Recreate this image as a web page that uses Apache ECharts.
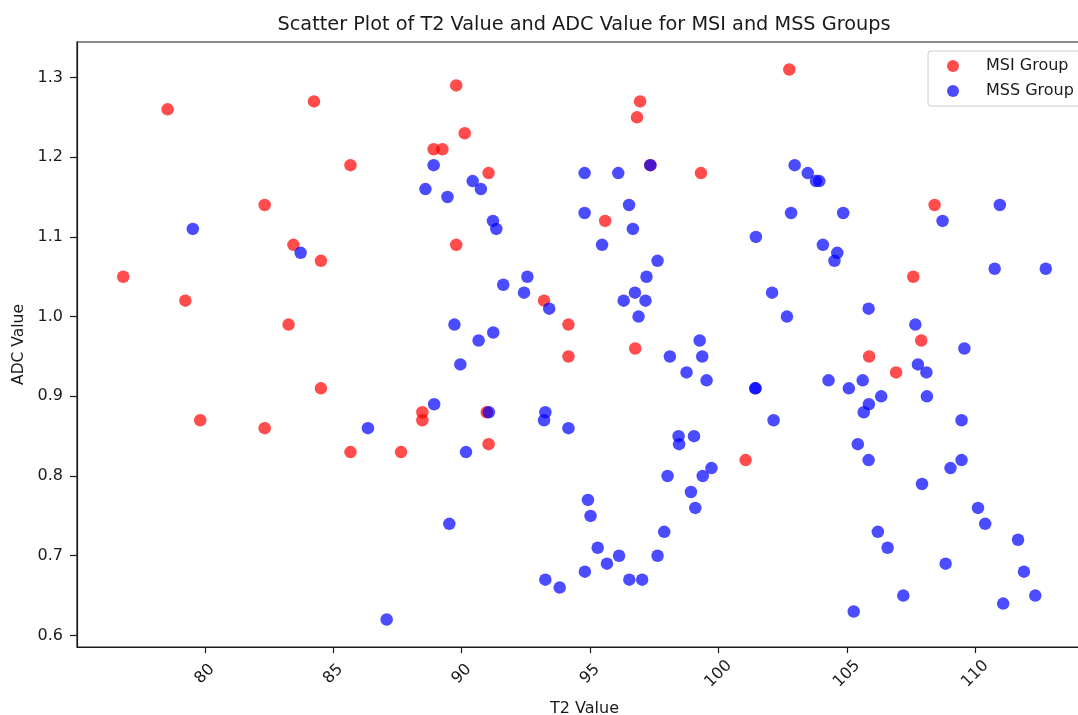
<!DOCTYPE html>
<html>
<head>
<meta charset="utf-8">
<title>Scatter Plot of T2 Value and ADC Value for MSI and MSS Groups</title>
<script src="https://cdn.jsdelivr.net/npm/echarts@6.0.0/dist/echarts.min.js"></script>
<style>
    html, body { margin: 0; padding: 0; background: #fff; }
    #chart { width: 1078px; height: 715px; }
</style>
</head>
<body>
<div id="chart"></div>
<script>
// MSI group (red)
var msiT2 = [76.82, 78.55, 79.24, 82.33, 84.25, 83.45, 84.52, 83.26, 85.67, 89.79,
    90.12, 88.91, 89.25, 91.05, 89.79, 102.76, 96.95, 96.83, 97.35, 99.32,
    95.59, 108.42, 107.59, 93.21, 94.16, 94.16, 96.76, 105.87, 107.90, 79.82,
    82.33, 84.52, 85.67, 87.64, 88.47, 88.47, 90.98, 91.05, 106.92, 101.06];
var msiAdc = [1.05, 1.26, 1.02, 1.14, 1.27, 1.09, 1.07, 0.99, 1.19, 1.29,
    1.23, 1.21, 1.21, 1.18, 1.09, 1.31, 1.27, 1.25, 1.19, 1.18,
    1.12, 1.14, 1.05, 1.02, 0.99, 0.95, 0.96, 0.95, 0.97, 0.87,
    0.86, 0.91, 0.83, 0.83, 0.88, 0.87, 0.88, 0.84, 0.93, 0.82];

// MSS group (blue)
var mssT2 = [79.53, 83.73, 88.59, 88.91, 89.45, 90.43, 90.75, 91.22, 91.35, 92.56,
    91.62, 92.43, 89.72, 90.66, 91.23, 94.79, 96.10, 97.35, 94.79, 96.52,
    96.67, 95.47, 97.63, 97.20, 96.75, 96.31, 97.16, 96.89, 93.41, 99.27,
    98.11, 99.37, 102.97, 103.48, 103.80, 103.93, 102.83, 104.86, 101.46, 104.07,
    104.63, 104.52, 102.09, 102.67, 105.85, 107.67, 109.58, 108.73, 110.96, 110.76,
    112.75, 89.95, 88.93, 86.35, 90.17, 91.06, 89.52, 87.08, 107.77, 108.10,
    98.76, 99.54, 104.29, 105.62, 101.44, 101.44, 105.08, 106.34, 108.12, 105.86,
    105.66, 93.26, 93.21, 94.16, 102.15, 109.47, 98.45, 98.47, 99.05, 105.43,
    105.85, 109.47, 109.04, 99.73, 99.39, 98.02, 107.93, 98.93, 99.10, 94.92,
    95.02, 110.11, 110.39, 97.89, 106.21, 111.67, 95.30, 106.59, 96.13, 97.63,
    95.66, 108.85, 94.80, 111.90, 93.26, 96.53, 97.03, 93.82, 107.20, 112.34,
    111.09, 105.27];
var mssAdc = [1.11, 1.08, 1.16, 1.19, 1.15, 1.17, 1.16, 1.12, 1.11, 1.05,
    1.04, 1.03, 0.99, 0.97, 0.98, 1.18, 1.18, 1.19, 1.13, 1.14,
    1.11, 1.09, 1.07, 1.05, 1.03, 1.02, 1.02, 1.00, 1.01, 0.97,
    0.95, 0.95, 1.19, 1.18, 1.17, 1.17, 1.13, 1.13, 1.10, 1.09,
    1.08, 1.07, 1.03, 1.00, 1.01, 0.99, 0.96, 1.12, 1.14, 1.06,
    1.06, 0.94, 0.89, 0.86, 0.83, 0.88, 0.74, 0.62, 0.94, 0.93,
    0.93, 0.92, 0.92, 0.92, 0.91, 0.91, 0.91, 0.90, 0.90, 0.89,
    0.88, 0.88, 0.87, 0.86, 0.87, 0.87, 0.85, 0.84, 0.85, 0.84,
    0.82, 0.82, 0.81, 0.81, 0.80, 0.80, 0.79, 0.78, 0.76, 0.77,
    0.75, 0.76, 0.74, 0.73, 0.73, 0.72, 0.71, 0.71, 0.70, 0.70,
    0.69, 0.69, 0.68, 0.68, 0.67, 0.67, 0.67, 0.66, 0.65, 0.65,
    0.64, 0.63];

var xTicks = [80, 85, 90, 95, 100, 105, 110];
var yTicks = [0.6, 0.7, 0.8, 0.9, 1.0, 1.1, 1.2, 1.3];

function pairs(xs, ys) {
    var out = [];
    for (var i = 0; i < xs.length; i++) {
        out.push([xs[i], ys[i]]);
    }
    return out;
}

var font = 'DejaVu Sans';
var ink = '#1a1a1a';

var chart = echarts.init(document.getElementById('chart'), null, {renderer: 'canvas'});

var option = {
    animation: false,
    backgroundColor: '#fff',
    textStyle: {fontFamily: font, color: ink},
    title: {
        text: 'Scatter Plot of T2 Value and ADC Value for MSI and MSS Groups',
        left: 584,
        top: 15,
        padding: 0,
        textAlign: 'center',
        textStyle: {fontFamily: font, fontSize: 19.3, fontWeight: 'normal', color: ink}
    },
    legend: {
        orient: 'vertical',
        left: 928,
        top: 51,
        padding: [6, 30, 6, 19],
        itemWidth: 12,
        itemHeight: 12,
        itemGap: 7,
        borderColor: '#cccccc',
        borderWidth: 1,
        borderRadius: 3,
        backgroundColor: 'rgba(255,255,255,0.8)',
        textStyle: {fontFamily: font, fontSize: 16, lineHeight: 18, color: ink, padding: [0, 0, 0, 22]},
        data: ['MSI Group', 'MSS Group']
    },
    grid: {
        left: 77,
        top: 42,
        width: 1015,
        height: 605,
        containLabel: false,
        outerBoundsMode: 'none',
        show: true,
        borderColor: ink,
        borderWidth: 1.2,
        backgroundColor: 'transparent'
    },
    xAxis: {
        type: 'value',
        min: 75.02,
        max: 114.55,
        name: 'T2 Value',
        nameLocation: 'middle',
        nameGap: 54,
        nameTextStyle: {fontFamily: font, fontSize: 16, color: ink},
        axisLine: {show: true, onZero: false, lineStyle: {color: ink, width: 1.2}},
        axisTick: {show: true, length: 6, customValues: xTicks, lineStyle: {color: ink, width: 1.2}},
        axisLabel: {
            customValues: xTicks,
            rotate: 45,
            align: 'center',
            verticalAlign: 'middle',
            margin: 27,
            fontFamily: font,
            fontSize: 16,
            color: ink
        },
        splitLine: {show: false}
    },
    yAxis: {
        type: 'value',
        min: 0.5855,
        max: 1.3445,
        name: 'ADC Value',
        nameLocation: 'middle',
        nameGap: 48,
        nameTextStyle: {fontFamily: font, fontSize: 15.5, color: ink},
        axisLine: {show: true, onZero: false, lineStyle: {color: ink, width: 1.2}},
        axisTick: {show: true, length: 7, customValues: yTicks, lineStyle: {color: ink, width: 1.2}},
        axisLabel: {
            customValues: yTicks,
            margin: 14,
            fontFamily: font,
            fontSize: 16,
            color: ink,
            formatter: function (v) { return v.toFixed(1); }
        },
        splitLine: {show: false}
    },
    series: [
        {
            name: 'MSI Group',
            type: 'scatter',
            symbol: 'circle',
            symbolSize: 12.5,
            data: pairs(msiT2, msiAdc),
            itemStyle: {color: 'rgb(255,0,0)', opacity: 0.7}
        },
        {
            name: 'MSS Group',
            type: 'scatter',
            symbol: 'circle',
            symbolSize: 12.5,
            data: pairs(mssT2, mssAdc),
            itemStyle: {color: 'rgb(0,0,255)', opacity: 0.7}
        }
    ]
};

chart.setOption(option);
</script>
</body>
</html>
